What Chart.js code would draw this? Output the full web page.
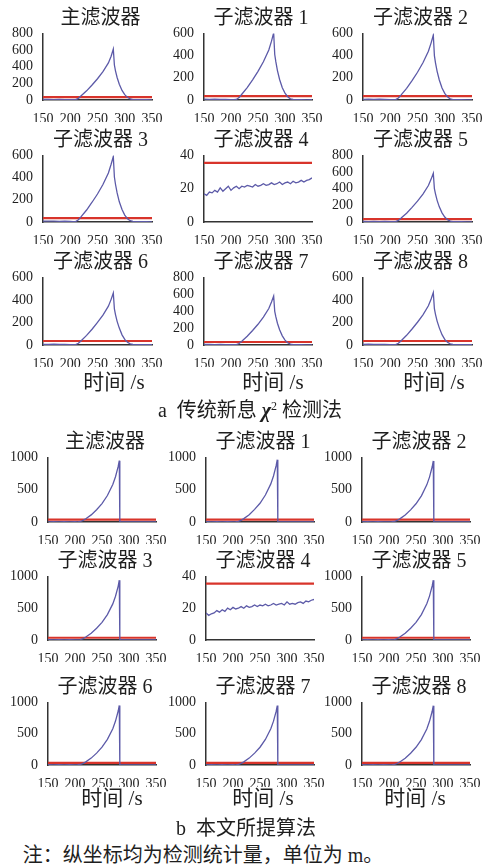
<!DOCTYPE html>
<html>
<head>
<meta charset="utf-8">
<script src="https://cdn.jsdelivr.net/npm/chart.js@4.4.1/dist/chart.umd.min.js"></script>
<style>
  body { margin: 0; background: #fff; width: 489px; height: 866px; position: relative; overflow: hidden; }
  canvas { position: absolute; }
  .txt {
    position: absolute; transform: translate(-50%, -50%); white-space: nowrap; line-height: 1;
    font-family: "Liberation Serif", "Noto Sans CJK SC", serif; color: #1e1e1e;
  }
  .ttl { font-size: 20px; }
  .lbl { font-size: 21px; }
  .cap { font-size: 20px; }
</style>
</head>
<body>
<script>
// --- datos ---
const tiempoA = [150, 160, 170, 180, 190, 200, 205, 210, 215, 220, 230, 240, 250, 260, 270, 275, 279, 281, 283, 286, 290, 295, 300, 305, 310, 315, 320, 330, 340, 350];
const tiempoB = [150, 160, 170, 180, 190, 200, 205, 210, 215, 220, 230, 240, 250, 260, 270, 275, 280, 282, 283, 290, 300, 310, 320, 330, 340, 350];
const tiempoRuido = [150, 155, 160, 165, 170, 175, 180, 185, 190, 195, 200, 205, 210, 215, 220, 225, 230, 235, 240, 245, 250, 255, 260, 265, 270, 275, 280, 285, 290, 295, 300, 305, 310, 315, 320, 325, 330, 335, 340, 345, 350];
const umbral = 35.5;

// a: detección chi-cuadrado tradicional
const aPrincipal = [6, 8, 5, 7, 4, 5, 3, 4, 20, 50, 110, 180, 255, 340, 445, 525, 612, 420, 350, 270, 190, 115, 65, 32, 12, 5, 4, 3, 3, 2];
const aSub1 = [7, 5, 8, 6, 5, 4, 3, 5, 22, 52, 112, 182, 258, 345, 450, 530, 605, 410, 345, 265, 185, 110, 62, 30, 11, 5, 3, 4, 2, 3];
const aSub2 = [5, 7, 6, 8, 5, 3, 4, 3, 18, 46, 105, 175, 250, 335, 440, 515, 585, 400, 335, 258, 180, 108, 60, 28, 10, 4, 3, 3, 2, 2];
const aSub3 = [8, 7, 8, 6, 7, 6, 3, 4, 20, 48, 108, 178, 252, 338, 442, 520, 590, 405, 340, 262, 182, 112, 62, 30, 12, 6, 4, 3, 3, 2];
const aSub4 = [17, 16, 18, 17.5, 19, 18, 20.5, 18.5, 20, 21.5, 19, 20.5, 21.5, 20, 21.5, 21, 22, 21.5, 21, 22.5, 21.5, 22, 23, 22, 22.5, 23.5, 22.5, 23, 24, 22.5, 23.5, 24, 23, 24.5, 23.5, 24, 25, 24, 25, 25.5, 26.5];
const aSub5 = [6, 5, 7, 5, 6, 4, 3, 4, 19, 47, 106, 176, 250, 335, 438, 515, 585, 400, 338, 260, 182, 110, 60, 28, 10, 5, 3, 3, 2, 2];
const aSub6 = [6, 5, 7, 5, 6, 4, 3, 4, 15, 38, 85, 140, 200, 265, 345, 405, 462, 320, 270, 210, 150, 90, 50, 25, 10, 5, 4, 3, 2, 2];
const aSub7 = [7, 6, 5, 7, 5, 4, 3, 4, 18, 45, 104, 172, 245, 330, 432, 510, 580, 398, 335, 258, 180, 108, 58, 27, 10, 5, 3, 3, 2, 2];
const aSub8 = [6, 7, 5, 6, 5, 4, 3, 4, 15, 38, 86, 142, 202, 268, 348, 408, 465, 322, 272, 212, 152, 92, 50, 24, 10, 5, 3, 3, 2, 2];

// b: algoritmo propuesto
const bPrincipal = [3, 4, 3, 5, 3, 4, 3, 8, 25, 50, 110, 190, 285, 410, 580, 700, 860, 950, 0, 2, 3, 2, 3, 2, 3, 2];
const bSub1 = [4, 3, 5, 3, 4, 3, 4, 9, 26, 52, 112, 195, 290, 418, 590, 712, 875, 965, 0, 3, 2, 3, 2, 3, 2, 2];
const bSub2 = [3, 5, 3, 4, 3, 3, 4, 8, 24, 48, 108, 188, 282, 405, 575, 695, 855, 945, 0, 2, 3, 2, 2, 3, 2, 2];
const bSub3 = [4, 3, 4, 3, 5, 3, 3, 7, 23, 47, 106, 185, 278, 400, 568, 688, 848, 940, 0, 2, 2, 3, 2, 2, 3, 2];
const bSub4 = [17, 15.5, 16.5, 17, 18.5, 17.5, 19, 18, 20, 19, 20.5, 19.5, 20, 21, 20, 21.5, 20.5, 21, 22, 21, 22, 21.5, 22.5, 21.5, 22, 23, 22, 22.5, 23, 22, 24, 22.5, 23, 22.5, 23.5, 24, 23, 24.5, 24, 25, 25.5];
const bSub5 = [3, 4, 3, 4, 3, 4, 3, 7, 23, 47, 106, 186, 278, 400, 570, 690, 850, 940, 0, 3, 2, 2, 3, 2, 2, 3];
const bSub6 = [4, 3, 4, 3, 4, 3, 4, 8, 25, 50, 110, 190, 285, 410, 580, 702, 862, 952, 0, 2, 3, 2, 2, 3, 2, 2];
const bSub7 = [3, 4, 3, 4, 3, 4, 3, 8, 25, 50, 110, 190, 284, 408, 578, 700, 860, 950, 0, 2, 2, 3, 2, 2, 3, 2];
const bSub8 = [4, 3, 4, 3, 4, 3, 3, 8, 24, 49, 109, 189, 283, 406, 576, 698, 858, 948, 0, 3, 2, 2, 3, 2, 2, 2];

// --- posiciones de las áreas de trazado ---
const colsA = [[43, 152], [204, 312], [363, 472]];
const rowsA = [[33, 100], [155, 222], [277, 345]];
const colsB = [[48, 156], [206, 314], [362, 470]];
const rowsB = [[457, 522], [576, 640], [702, 765]];

const paneles = [
  { titulo: "主滤波器", col: colsA[0], fila: rowsA[0], t: tiempoA, v: aPrincipal, ymax: 800, paso: 200 },
  { titulo: "子滤波器 1", col: colsA[1], fila: rowsA[0], t: tiempoA, v: aSub1, ymax: 600, paso: 200 },
  { titulo: "子滤波器 2", col: colsA[2], fila: rowsA[0], t: tiempoA, v: aSub2, ymax: 600, paso: 200 },
  { titulo: "子滤波器 3", col: colsA[0], fila: rowsA[1], t: tiempoA, v: aSub3, ymax: 600, paso: 200 },
  { titulo: "子滤波器 4", col: colsA[1], fila: rowsA[1], t: tiempoRuido, v: aSub4, ymax: 40, paso: 20 },
  { titulo: "子滤波器 5", col: colsA[2], fila: rowsA[1], t: tiempoA, v: aSub5, ymax: 800, paso: 200 },
  { titulo: "子滤波器 6", col: colsA[0], fila: rowsA[2], t: tiempoA, v: aSub6, ymax: 600, paso: 200 },
  { titulo: "子滤波器 7", col: colsA[1], fila: rowsA[2], t: tiempoA, v: aSub7, ymax: 800, paso: 200 },
  { titulo: "子滤波器 8", col: colsA[2], fila: rowsA[2], t: tiempoA, v: aSub8, ymax: 600, paso: 200 },
  { titulo: "主滤波器", col: colsB[0], fila: rowsB[0], t: tiempoB, v: bPrincipal, ymax: 1000, paso: 500 },
  { titulo: "子滤波器 1", col: colsB[1], fila: rowsB[0], t: tiempoB, v: bSub1, ymax: 1000, paso: 500 },
  { titulo: "子滤波器 2", col: colsB[2], fila: rowsB[0], t: tiempoB, v: bSub2, ymax: 1000, paso: 500 },
  { titulo: "子滤波器 3", col: colsB[0], fila: rowsB[1], t: tiempoB, v: bSub3, ymax: 1000, paso: 500 },
  { titulo: "子滤波器 4", col: colsB[1], fila: rowsB[1], t: tiempoRuido, v: bSub4, ymax: 40, paso: 20 },
  { titulo: "子滤波器 5", col: colsB[2], fila: rowsB[1], t: tiempoB, v: bSub5, ymax: 1000, paso: 500 },
  { titulo: "子滤波器 6", col: colsB[0], fila: rowsB[2], t: tiempoB, v: bSub6, ymax: 1000, paso: 500 },
  { titulo: "子滤波器 7", col: colsB[1], fila: rowsB[2], t: tiempoB, v: bSub7, ymax: 1000, paso: 500 },
  { titulo: "子滤波器 8", col: colsB[2], fila: rowsB[2], t: tiempoB, v: bSub8, ymax: 1000, paso: 500 },
];

const EJE_Y = 42, EJE_X = 22, ARRIBA = 10, DERECHA = 14;
const fuenteTicks = { family: "Liberation Serif, Times New Roman, serif", size: 14 };

function texto(clase, html, x, y) {
  const d = document.createElement("div");
  d.className = "txt " + clase;
  d.innerHTML = html;
  d.style.left = x + "px";
  d.style.top = y + "px";
  document.body.appendChild(d);
}

function dibujarPanel(p) {
  const [x0, x1] = p.col, [y0, y1] = p.fila;
  const cv = document.createElement("canvas");
  const w = x1 - x0 + EJE_Y + DERECHA, h = y1 - y0 + ARRIBA + EJE_X;
  cv.width = w; cv.height = h;
  cv.style.left = (x0 - EJE_Y) + "px";
  cv.style.top = (y0 - ARRIBA) + "px";
  document.body.appendChild(cv);

  // título del subgráfico
  texto("ttl", p.titulo, (x0 + x1) / 2 + 3, y0 - 16);

  new Chart(cv.getContext("2d"), {
    type: "line",
    data: {
      datasets: [
        {
          data: p.t.map((t, i) => ({ x: t, y: p.v[i] })),
          borderColor: "#5c5aa8",
          borderWidth: 1.3,
          pointRadius: 0,
          tension: 0,
          order: 0,
        },
        {
          data: [{ x: 150, y: umbral }, { x: 350, y: umbral }],
          borderColor: "#d8342b",
          borderWidth: 2.2,
          pointRadius: 0,
          order: 1,
        },
      ],
    },
    options: {
      responsive: false,
      animation: false,
      devicePixelRatio: 1,
      layout: { padding: { top: ARRIBA, right: DERECHA, left: 0, bottom: 0 } },
      plugins: { legend: { display: false }, tooltip: { enabled: false } },
      scales: {
        x: {
          type: "linear",
          min: 150,
          max: 350,
          afterFit: (s) => { s.height = EJE_X; },
          grid: { display: false },
          border: { display: true, color: "#333", width: 1.5 },
          ticks: { stepSize: 50, autoSkip: false, maxRotation: 0, padding: 3, color: "#1e1e1e", font: fuenteTicks,
                   callback: (v) => String(v) },
        },
        y: {
          min: 0,
          max: p.ymax,
          afterFit: (s) => { s.width = EJE_Y; },
          grid: { display: false },
          border: { display: true, color: "#333", width: 1.5 },
          ticks: { stepSize: p.paso, autoSkip: false, padding: 2, color: "#1e1e1e", font: fuenteTicks,
                   callback: (v) => String(v) },
        },
      },
    },
  });
}

paneles.forEach(dibujarPanel);

// etiquetas de eje y leyendas
texto("lbl", "时间 /s", 114, 382);
texto("lbl", "时间 /s", 273, 382);
texto("lbl", "时间 /s", 434, 382);
texto("cap", "a&nbsp; 传统新息 <b><i>χ</i></b><sup style=\"font-size:12px\">2</sup> 检测法", 250, 410);
texto("lbl", "时间 /s", 112, 798);
texto("lbl", "时间 /s", 263, 798);
texto("lbl", "时间 /s", 415, 798);
texto("cap", "b&nbsp; 本文所提算法", 246, 828);
texto("cap", "注：纵坐标均为检测统计量，单位为 m。", 203, 855);
</script>
</body>
</html>
